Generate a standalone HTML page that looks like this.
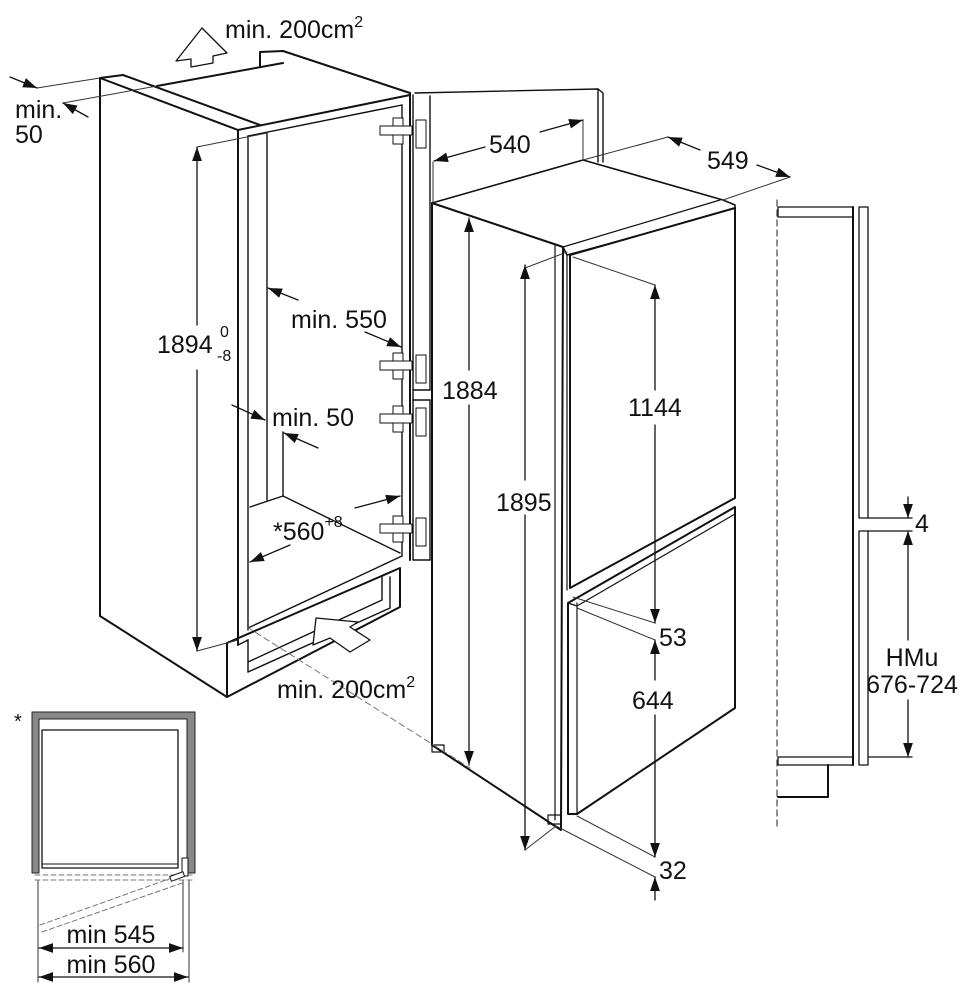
<!DOCTYPE html>
<html><head><meta charset="utf-8"><style>
html,body{margin:0;padding:0;background:#fff}
svg{display:block}
text{font-family:"Liberation Sans",Arial,sans-serif;fill:#111}
</style></head><body>
<svg width="978" height="1000" viewBox="0 0 978 1000" xmlns="http://www.w3.org/2000/svg">
<defs>
<marker id="a" viewBox="0 0 10 10" refX="10" refY="5" markerWidth="14" markerHeight="14" markerUnits="userSpaceOnUse" orient="auto-start-reverse"><path d="M0,1.5 L10,5 L0,8.5 Z" fill="#111"/></marker>
</defs>
<g fill="none" stroke="#111" stroke-linecap="round" stroke-linejoin="round">
<g stroke-width="2">
<line x1="100" y1="78" x2="100" y2="616"/>
<line x1="100" y1="78" x2="123" y2="75"/>
<line x1="100" y1="78" x2="238" y2="130"/>
<line x1="123" y1="75" x2="260" y2="125"/>
<line x1="157" y1="86" x2="283" y2="63"/>
<polyline points="260,66 260,52 283,51 410,93"/>
<line x1="238" y1="130" x2="410" y2="95"/>
<line x1="410" y1="93" x2="410" y2="560"/>
<line x1="238" y1="130" x2="238" y2="645"/>
<line x1="100" y1="616" x2="227" y2="697"/>
<polyline points="227,697 227,643 400,568 400,607 227,697"/>
</g>
<g stroke-width="1.4">
<line x1="248" y1="136" x2="402" y2="105"/>
<line x1="248" y1="136" x2="248" y2="630"/>
<line x1="267" y1="133" x2="267" y2="500"/>
<line x1="402" y1="105" x2="402" y2="556"/>
<line x1="248" y1="628" x2="402" y2="556"/>
<line x1="238" y1="645" x2="248" y2="640"/>
<polyline points="250,507 283,496 400,553"/>
<line x1="283" y1="432" x2="283" y2="496"/>
<polyline points="248,672 390,608 390,577"/>
<polyline points="248,662 382,600 382,577"/>
<line x1="248" y1="640" x2="248" y2="672"/>
</g>
<g stroke-width="1.4">
<polyline points="413,95 413,560 430,560"/>
<polyline points="415,93 598,89 603,93 603,162"/>
<line x1="598" y1="89" x2="598" y2="162"/>
<line x1="430" y1="96" x2="430" y2="390"/>
<line x1="430" y1="400" x2="430" y2="560"/>
<line x1="413" y1="390" x2="430" y2="390"/>
<line x1="413" y1="400" x2="430" y2="400"/>
</g>
<g stroke-width="1" fill="#fff">
<g transform="translate(0,130)"><rect x="393" y="-12" width="10" height="26"/><rect x="416" y="-10" width="10" height="28"/><rect x="380" y="-4" width="32" height="9"/></g>
<g transform="translate(0,365)"><rect x="393" y="-12" width="10" height="26"/><rect x="416" y="-10" width="10" height="28"/><rect x="380" y="-4" width="32" height="9"/></g>
<g transform="translate(0,418)"><rect x="393" y="-12" width="10" height="26"/><rect x="416" y="-10" width="10" height="28"/><rect x="380" y="-4" width="32" height="9"/></g>
<g transform="translate(0,528)"><rect x="393" y="-12" width="10" height="26"/><rect x="416" y="-10" width="10" height="28"/><rect x="380" y="-4" width="32" height="9"/></g>
</g>
<g stroke-width="2" fill="#fff">
<polygon points="432,203 583,160 723,200 735,205 735,210 567,255 563,247" stroke-width="1.6"/>
<polygon points="432,203 563,247 561,830 432,745"/>
<polygon points="570,255 735,208 735,498 570,588"/>
<polygon points="568,603 735,507 735,708 577,814 568,814"/>
</g>
<g stroke-width="1.2">
<line x1="567" y1="255" x2="567" y2="590"/>
<line x1="555" y1="245" x2="555" y2="820"/>
<line x1="577" y1="603" x2="577" y2="814"/>
<line x1="568" y1="603" x2="577" y2="606"/>
<line x1="577" y1="606" x2="735" y2="514"/>
<line x1="563" y1="247" x2="720" y2="200"/>
<rect x="432" y="745" width="12" height="7"/>
<rect x="548" y="815" width="13" height="9"/>
</g>
<g stroke-width="1.3">
<line x1="777" y1="200" x2="777" y2="830" stroke-dasharray="6,4" stroke="#555"/>
<rect x="778" y="207" width="75" height="10"/>
<line x1="853" y1="207" x2="853" y2="765" stroke-width="2"/>
<rect x="859" y="207" width="9" height="311"/>
<rect x="859" y="531" width="9" height="234"/>
<rect x="778" y="757" width="75" height="8"/>
<polyline points="828,765 828,797 778,797" stroke-width="2"/>
<line x1="868" y1="518" x2="912" y2="518"/>
<line x1="868" y1="531" x2="912" y2="531"/>
<line x1="868" y1="757" x2="912" y2="757"/>
</g>
<g stroke-width="1" stroke="#333">
<line x1="37" y1="88" x2="100" y2="78"/>
<line x1="63" y1="103" x2="157" y2="86"/>
<line x1="197" y1="147" x2="267" y2="133"/>
<line x1="197" y1="651" x2="238" y2="640"/>
<line x1="433" y1="162" x2="433" y2="203"/>
<line x1="583" y1="120" x2="583" y2="160"/>
<line x1="583" y1="160" x2="668" y2="137"/>
<line x1="723" y1="200" x2="790" y2="177"/>
<line x1="525" y1="268" x2="567" y2="252"/>
<line x1="573" y1="257" x2="655" y2="285"/>
<line x1="573" y1="597" x2="655" y2="623"/>
<line x1="577" y1="608" x2="655" y2="640"/>
<line x1="577" y1="816" x2="655" y2="857"/>
<line x1="556" y1="826" x2="655" y2="877"/>
<line x1="525" y1="850" x2="556" y2="826"/>
<line x1="38" y1="880" x2="38" y2="982"/>
<line x1="183" y1="880" x2="183" y2="952"/>
<line x1="189" y1="880" x2="189" y2="982"/>
<line x1="247" y1="627" x2="470" y2="768" stroke-dasharray="6,4" stroke="#777"/>
</g>
<g stroke-width="1.3">
<line x1="10" y1="77" x2="37" y2="88" marker-end="url(#a)"/>
<line x1="88" y1="117" x2="63" y2="103" marker-end="url(#a)"/>
<line x1="197" y1="325" x2="197" y2="147" marker-end="url(#a)"/>
<line x1="197" y1="370" x2="197" y2="651" marker-end="url(#a)"/>
<line x1="298" y1="300" x2="268" y2="288" marker-end="url(#a)"/>
<line x1="365" y1="332" x2="401" y2="347" marker-end="url(#a)"/>
<line x1="232" y1="405" x2="265" y2="420" marker-end="url(#a)"/>
<line x1="318" y1="448" x2="284" y2="433" marker-end="url(#a)"/>
<line x1="290" y1="545" x2="250" y2="562" marker-end="url(#a)"/>
<line x1="355" y1="508" x2="400" y2="496" marker-end="url(#a)"/>
<line x1="485" y1="147" x2="434" y2="161" marker-end="url(#a)"/>
<line x1="540" y1="132" x2="583" y2="120" marker-end="url(#a)"/>
<line x1="700" y1="150" x2="668" y2="137" marker-end="url(#a)"/>
<line x1="757" y1="165" x2="790" y2="177" marker-end="url(#a)"/>
<line x1="469" y1="370" x2="469" y2="218" marker-end="url(#a)"/>
<line x1="469" y1="405" x2="469" y2="765" marker-end="url(#a)"/>
<line x1="525" y1="480" x2="525" y2="265" marker-end="url(#a)"/>
<line x1="525" y1="515" x2="525" y2="850" marker-end="url(#a)"/>
<line x1="655" y1="390" x2="655" y2="285" marker-end="url(#a)"/>
<line x1="655" y1="425" x2="655" y2="623" marker-end="url(#a)"/>
<line x1="655" y1="680" x2="655" y2="640" marker-end="url(#a)"/>
<line x1="655" y1="715" x2="655" y2="857" marker-end="url(#a)"/>
<line x1="655" y1="900" x2="655" y2="877" marker-end="url(#a)"/>
<line x1="908" y1="497" x2="908" y2="518" marker-end="url(#a)"/>
<line x1="908" y1="640" x2="908" y2="531" marker-end="url(#a)"/>
<line x1="908" y1="700" x2="908" y2="757" marker-end="url(#a)"/>
<line x1="39" y1="948" x2="183" y2="948" marker-start="url(#a)" marker-end="url(#a)"/>
<line x1="39" y1="977" x2="188" y2="977" marker-start="url(#a)" marker-end="url(#a)"/>
</g>
<polygon points="202,28 227,53 213,56 213,63 191,67 191,59 176,61" stroke-width="1.3" fill="#fff"/>
<polygon points="316,618 358,622 350,627 370,640 350,652 330,638 313,645" stroke-width="1.3" fill="#fff"/>
<g>
<path d="M32,712 H195 V873 H187 V719 H39 V873 H32 Z" fill="#888" stroke="#222" stroke-width="1"/>
<rect x="42" y="730" width="136" height="138" stroke-width="1.3"/>
<line x1="42" y1="864" x2="178" y2="864" stroke-width="1"/>
<line x1="35" y1="875" x2="195" y2="875" stroke-dasharray="5,3" stroke="#777" stroke-width="1"/>
<line x1="35" y1="880" x2="195" y2="880" stroke-dasharray="5,3" stroke="#777" stroke-width="1"/>
<line x1="40" y1="925" x2="180" y2="875" stroke-dasharray="5,3" stroke="#777" stroke-width="1"/>
<line x1="42" y1="932" x2="185" y2="882" stroke-dasharray="5,3" stroke="#777" stroke-width="1"/>
<rect x="182" y="858" width="6" height="18" fill="#fff" stroke-width="1"/>
<rect x="170" y="874" width="14" height="5" fill="#fff" stroke-width="1" transform="rotate(-20 177 876)"/>
</g>
</g>
<g font-size="25">
<text x="225" y="38">min. 200cm<tspan font-size="16" dy="-11">2</tspan></text>
<text x="15" y="118">min.</text>
<text x="15" y="143">50</text>
<text x="157" y="353">1894</text>
<text x="220" y="337" font-size="16">0</text>
<text x="217" y="361" font-size="16">-8</text>
<text x="291" y="328">min. 550</text>
<text x="272" y="426">min. 50</text>
<text x="273" y="540">*560<tspan font-size="16" dy="-13">+8</tspan></text>
<text x="277" y="698">min. 200cm<tspan font-size="16" dy="-11">2</tspan></text>
<text x="489" y="153">540</text>
<text x="707" y="169">549</text>
<text x="442" y="399">1884</text>
<text x="496" y="511">1895</text>
<text x="628" y="416">1144</text>
<text x="659" y="646">53</text>
<text x="632" y="709">644</text>
<text x="659" y="879">32</text>
<text x="915" y="532">4</text>
<text x="912" y="666" text-anchor="middle">HMu</text>
<text x="912" y="693" text-anchor="middle">676-724</text>
<text x="111" y="943" text-anchor="middle">min 545</text>
<text x="111" y="973" text-anchor="middle">min 560</text>
<text x="14" y="728" font-size="20">*</text>
</g>
</svg>
</body></html>
